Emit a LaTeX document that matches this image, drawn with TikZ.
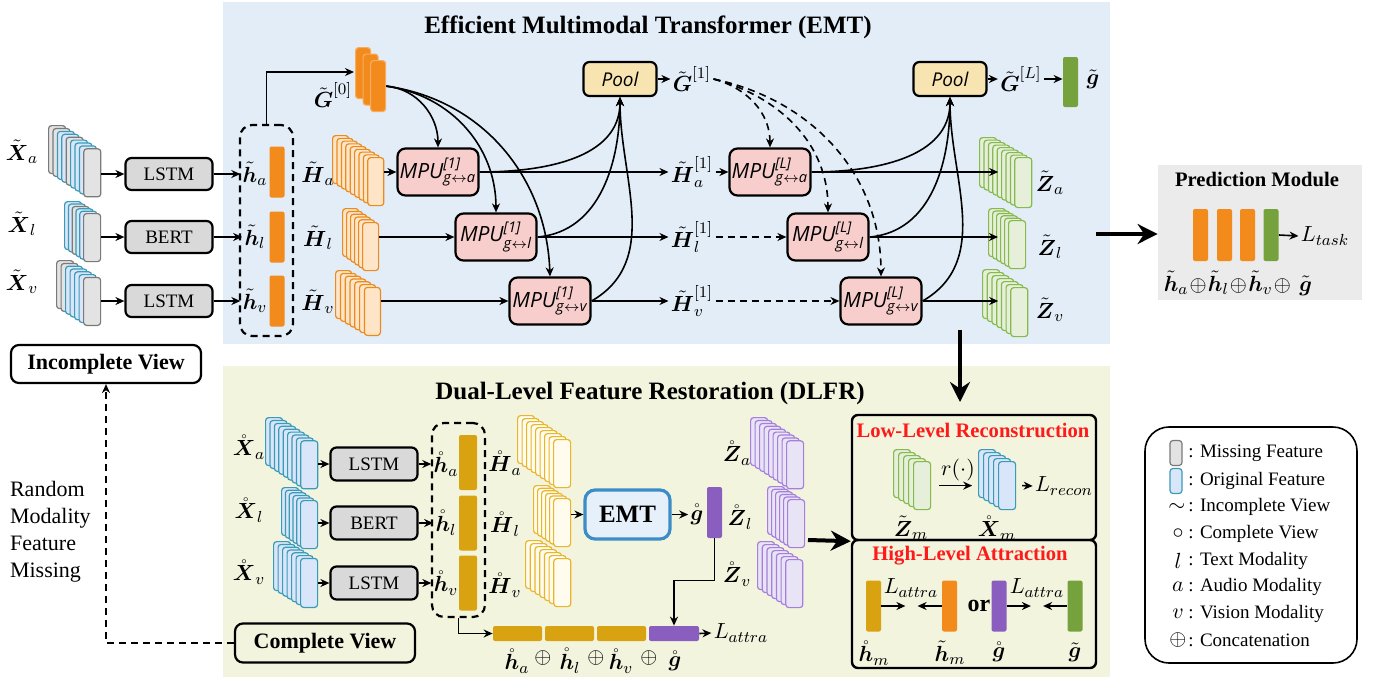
\documentclass[tikz,border=0pt]{standalone}
\usepackage{amsmath}
\usepackage{amssymb}
\usepackage{fontspec}
\setmainfont{Liberation Serif}
\newfontfamily\pufont{Open Sans}
\usetikzlibrary{arrows.meta}

\definecolor{emtbg}{HTML}{E3EDF7}
\definecolor{dlbg}{HTML}{F2F4DE}
\definecolor{predbg}{HTML}{EBEBEB}
\definecolor{encgray}{HTML}{D9D9D9}
\definecolor{mpupink}{HTML}{F8CECC}
\definecolor{pooltan}{HTML}{F8E4B1}
\definecolor{orsol}{HTML}{F28A1C}
\definecolor{hdraw}{HTML}{E98B1E}
\definecolor{hfill}{HTML}{FEE5C8}
\definecolor{missdraw}{HTML}{7A7A7A}
\definecolor{missfill}{HTML}{E3E3E3}
\definecolor{origdraw}{HTML}{3A9BB7}
\definecolor{origfill}{HTML}{D9E6FA}
\definecolor{zdraw}{HTML}{86BA4E}
\definecolor{zfill}{HTML}{E5EFD9}
\definecolor{gsol}{HTML}{76A23D}
\definecolor{ysol}{HTML}{D9A210}
\definecolor{ydraw}{HTML}{E9B52C}
\definecolor{yfill}{HTML}{FFFCEE}
\definecolor{psol}{HTML}{8A5EBF}
\definecolor{pdraw}{HTML}{A67FDD}
\definecolor{pfill}{HTML}{E9E3F6}
\definecolor{emtdraw}{HTML}{3C8DC7}
\definecolor{emtfill}{HTML}{E6F0FA}
\definecolor{titlered}{HTML}{FF1A1A}

% stack of feature cards, the last one is named #1
\newcommand{\cards}[7]{%
  \foreach \s [count=\i from 0] in {#7}
    \node[card, #6, \s, anchor=north west] (#1) at ({#2+\i*#4}, {#3+\i*#5}) {};
}
\newcommand{\mpu}[2]{{\pufont\itshape MPU}$^{\text{\pufont\itshape[#1]}}_{\text{\pufont\itshape g}\leftrightarrow\text{\pufont\itshape #2}}$}
\newcommand{\bx}{\boldsymbol}

\begin{document}
\begin{tikzpicture}[x=0.5pt, y=-0.5pt,
    lbl/.style={inner sep=1pt, font=\fontsize{11}{13}\selectfont},
    ttl/.style={font=\fontsize{12.5}{14}\selectfont\bfseries},
    arr/.style={-{Stealth[length=4.5pt,width=4pt]}, line width=0.8pt},
    bigarr/.style={-{Stealth[length=10pt,width=10pt]}, line width=2pt},
    dline/.style={dash pattern=on 3.5pt off 2.5pt},
    enc/.style={draw, line width=1.1pt, fill=encgray, rounded corners=3pt, minimum width=43.5pt, minimum height=16pt, font=\fontsize{9.5}{11}\selectfont},
    mpu/.style={draw, line width=1.1pt, fill=mpupink, rounded corners=4pt, minimum width=40.5pt, minimum height=23.5pt, inner sep=0pt, font=\fontsize{10.5}{12}\selectfont},
    pool/.style={draw, line width=1.1pt, fill=pooltan, rounded corners=3pt, minimum width=36.5pt, minimum height=17pt, font=\fontsize{9.5}{11}\selectfont\pufont\itshape},
    featbar/.style={rounded corners=1pt, minimum width=7.5pt, minimum height=25.5pt, inner sep=0pt},
    card/.style={rounded corners=1.5pt, line width=0.6pt, minimum width=8.5pt, minimum height=24pt, inner sep=0pt},
    miss/.style={draw=missdraw, fill=missfill},
    orig/.style={draw=origdraw, fill=origfill},
    hcard/.style={draw=hdraw, fill=hfill},
    gcard/.style={draw=orsol!70, fill=orsol},
    zcard/.style={draw=zdraw, fill=zfill},
    ycard/.style={draw=ydraw, fill=yfill},
    pcard/.style={draw=pdraw, fill=pfill},
    viewbox/.style={draw, line width=1.1pt, rounded corners=4pt, font=\fontsize{11}{13}\selectfont\bfseries},
    dbox/.style={draw, line width=1.1pt, dline, rounded corners=6pt},
    lossbox/.style={draw, line width=1.2pt, rounded corners=3pt},
    redttl/.style={text=titlered, font=\fontsize{10.3}{12}\selectfont\bfseries},
    legtxt/.style={anchor=west, inner sep=1pt, font=\fontsize{9.5}{11}\selectfont}
  ]
  \useasboundingbox (0,0) rectangle (1378,682);

  % backgrounds
  \fill[emtbg] (223,2) rectangle (1110,344);
  \fill[dlbg] (223,366) rectangle (1110,677);
  \node[fill=predbg, minimum width=102pt, minimum height=67.5pt] (pred) at (1260,232.5) {};

  \node[ttl] (emtt) at (648,27) {Efficient Multimodal Transformer (EMT)};
  \node[ttl] (dlt) at (650,393) {Dual-Level Feature Restoration (DLFR)};

  %%% EMT part
  % inputs
  \node[lbl] (xta) at (22,152) {$\tilde{\bx{X}}_a$};
  \node[lbl] (xtl) at (22,224) {$\tilde{\bx{X}}_l$};
  \node[lbl] (xtv) at (22,282) {$\tilde{\bx{X}}_v$};
  \cards{Xa}{48}{125}{4.4}{2.9}{}{miss,miss,orig,orig,miss,orig,orig,orig,miss}
  \cards{Xl}{64}{201}{3.8}{2.4}{}{orig,orig,miss,orig,orig,miss}
  \cards{Xv}{56}{260}{4.5}{2.8}{}{miss,miss,orig,orig,orig,orig,miss}

  \node[enc] (lstma) at (169,174) {LSTM};
  \node[enc] (bert) at (169,237) {BERT};
  \node[enc] (lstmv) at (169,301) {LSTM};

  \node[featbar, fill=orsol] (bara) at (277,172) {};
  \node[featbar, fill=orsol] (barl) at (277,237) {};
  \node[featbar, fill=orsol] (barv) at (277,301) {};
  \node[lbl] (hta) at (255,174) {$\tilde{\bx{h}}_a$};
  \node[lbl] (htl) at (255,237) {$\tilde{\bx{h}}_l$};
  \node[lbl] (htv) at (255,301) {$\tilde{\bx{h}}_v$};
  \node[dbox, minimum width=26.5pt, minimum height=105.5pt] (hbox) at (266.5,230.5) {};

  \draw[arr] (Xa.east |- lstma) -- (lstma.west);
  \draw[arr] (Xl.east |- bert) -- (bert.west);
  \draw[arr] (Xv.east |- lstmv) -- (lstmv.west);
  \draw[arr] (lstma.east) -- (hta.west);
  \draw[arr] (bert.east) -- (htl.west);
  \draw[arr] (lstmv.east) -- (htv.west);

  % global token
  \cards{G0}{355}{47}{7.5}{6.5}{minimum width=7.5pt, minimum height=25.5pt}{gcard,gcard,gcard}
  \coordinate (g0in) at (354,72);
  \node[lbl] (g0) at (333,95) {$\tilde{\bx{G}}^{[0]}$};
  \draw[arr] (hbox.north) |- (g0in);

  % modality sequences
  \node[lbl] (Hta) at (318,174) {$\tilde{\bx{H}}_a$};
  \node[lbl] (Htl) at (318,238) {$\tilde{\bx{H}}_l$};
  \node[lbl] (Htv) at (318,302) {$\tilde{\bx{H}}_v$};
  \cards{Ha}{332}{135}{4.4}{2.75}{minimum width=8pt}{hcard,hcard,hcard,hcard,hcard,hcard,hcard,hcard,hcard}
  \cards{Hl}{342}{208}{4}{2.8}{minimum width=8pt}{hcard,hcard,hcard,hcard,hcard,hcard}
  \cards{Hv}{335}{270}{4.8}{2.8}{minimum width=8pt}{hcard,hcard,hcard,hcard,hcard,hcard,hcard}

  % first layer
  \node[mpu] (m1a) at (438,172) {\mpu{1}{a}};
  \node[mpu] (m1l) at (496,237) {\mpu{1}{l}};
  \node[mpu] (m1v) at (550,301) {\mpu{1}{v}};
  \node[pool] (p1) at (620,79) {Pool};
  \node[lbl] (g1) at (692,79) {$\tilde{\bx{G}}^{[1]}$};
  \node[lbl] (h1a) at (692,172) {$\tilde{\bx{H}}^{[1]}_a$};
  \node[lbl] (h1l) at (692,237) {$\tilde{\bx{H}}^{[1]}_l$};
  \node[lbl] (h1v) at (692,301) {$\tilde{\bx{H}}^{[1]}_v$};

  \draw[arr] (Ha.east |- m1a) -- (m1a.west);
  \draw[arr] (Hl.east |- m1l) -- (m1l.west);
  \draw[arr] (Hv.east |- m1v) -- (m1v.west);
  \draw[arr] (G0.east) to[out=-5, in=90] (m1a.north);
  \draw[arr] (G0.east) to[out=-8, in=90] (m1l.north);
  \draw[arr] (G0.east) to[out=-8, in=92] (m1v.north);
  \draw[arr] (m1a.east) to[out=0, in=-90] (p1.south);
  \draw[arr] (m1l.east) to[out=5, in=-90] (p1.south);
  \draw[arr] (m1v.east) to[out=30, in=-90] (p1.south);
  \draw[arr] (m1a.east) -- (h1a.west);
  \draw[arr] (m1l.east) -- (h1l.west);
  \draw[arr] (m1v.east) -- (h1v.west);
  \draw[arr] (p1.east) -- (g1.west);

  % last layer
  \node[mpu] (mLa) at (770,172) {\mpu{L}{a}};
  \node[mpu] (mLl) at (828,237) {\mpu{L}{l}};
  \node[mpu] (mLv) at (881,301) {\mpu{L}{v}};
  \node[pool] (pL) at (950,79) {Pool};
  \node[lbl] (gL) at (1021,79) {$\tilde{\bx{G}}^{[L]}$};
  \node[featbar, fill=gsol, minimum height=25pt] (gbar) at (1070.5,82) {};
  \node[lbl] (gt) at (1093,79) {$\tilde{\bx{g}}$};

  \draw[arr] (h1a.east) -- (mLa.west);
  \draw[arr, dline] (h1l.east) -- (mLl.west);
  \draw[arr, dline] (h1v.east) -- (mLv.west);
  \draw[arr, dline] (g1.east) to[out=-15, in=90] (mLa.north);
  \draw[arr, dline] (g1.east) to[out=-15, in=90] (mLl.north);
  \draw[arr, dline] (g1.east) to[out=-12, in=90] (mLv.north);
  \draw[arr] (mLa.east) to[out=0, in=-90] (pL.south);
  \draw[arr] (mLl.east) to[out=5, in=-90] (pL.south);
  \draw[arr] (mLv.east) to[out=30, in=-90] (pL.south);
  \draw[arr] (pL.east) -- (gL.west);
  \draw[arr] (gL.east) -- (gbar.west |- gL);

  % outputs
  \cards{Za}{979}{137}{4.4}{2.5}{minimum height=25pt}{zcard,zcard,zcard,zcard,zcard,zcard,zcard,zcard,zcard}
  \cards{Zl}{988}{208}{4}{2.4}{}{zcard,zcard,zcard,zcard,zcard,zcard}
  \cards{Zv}{982}{269}{4.7}{3}{minimum height=24.5pt}{zcard,zcard,zcard,zcard,zcard,zcard,zcard}
  \node[lbl] (zta) at (1050,183) {$\tilde{\bx{Z}}_a$};
  \node[lbl] (ztl) at (1050,247) {$\tilde{\bx{Z}}_l$};
  \node[lbl] (ztv) at (1050,310) {$\tilde{\bx{Z}}_v$};
  \draw[arr, shorten >=8pt] (mLa.east) -- (Za.west |- mLa);
  \draw[arr, shorten >=5pt] (mLl.east) -- (Zl.west |- mLl);
  \draw[arr, shorten >=6pt] (mLv.east) -- (Zv.west |- mLv);

  %%% prediction module
  \node[font=\fontsize{10.3}{12}\selectfont\bfseries] (predt) at (1257,179) {Prediction Module};
  \node[featbar, fill=orsol, minimum height=26pt] (pa) at (1200.5,235) {};
  \node[featbar, fill=orsol, minimum height=26pt] (pl) at (1224.5,235) {};
  \node[featbar, fill=orsol, minimum height=26pt] (pv) at (1247.5,235) {};
  \node[featbar, fill=gsol, minimum height=26pt] (pg) at (1271,235) {};
  \node[lbl] (ltask) at (1325,236) {$L_{task}$};
  \node[lbl] (predlab) at (1238,283) {$\tilde{\bx{h}}_a\!\oplus\!\tilde{\bx{h}}_l\!\oplus\!\tilde{\bx{h}}_v\!\oplus\,\tilde{\bx{g}}$};
  \draw[arr] (pg.east) -- (ltask.west);
  \coordinate (emtout) at (1096,234);
  \draw[bigarr] (emtout) -- (pred.west |- emtout);

  %%% views
  \node[viewbox, fill=white, minimum width=95pt, minimum height=19pt] (inc) at (106,364) {Incomplete View};
  \node[viewbox, fill=dlbg, minimum width=90pt, minimum height=19.5pt] (comp) at (325,643) {Complete View};
  \draw[arr, dline] (comp.west) -| (inc.south);
  \node[anchor=north west, align=left, font=\fontsize{11}{13.5}\selectfont] (rand) at (3,474) {Random\\Modality\\Feature\\Missing};

  %%% DLFR part
  \node[lbl] (xca) at (249,447) {$\mathring{\bx{X}}_a$};
  \node[lbl] (xcl) at (249,510) {$\mathring{\bx{X}}_l$};
  \node[lbl] (xcv) at (249,572) {$\mathring{\bx{X}}_v$};
  \cards{Xca}{265}{417}{4.4}{2.9}{}{orig,orig,orig,orig,orig,orig,orig,orig,orig}
  \cards{Xcl}{281}{487}{3.8}{2.6}{}{orig,orig,orig,orig,orig,orig}
  \cards{Xcv}{273}{541}{4.5}{2.8}{minimum height=24.5pt}{orig,orig,orig,orig,orig,orig,orig}

  \node[enc, minimum height=16.5pt] (lstmca) at (374,464) {LSTM};
  \node[enc, minimum height=16.5pt] (bertc) at (374,523) {BERT};
  \node[enc, minimum height=16.5pt] (lstmcv) at (374,583) {LSTM};

  \node[featbar, fill=ysol, minimum width=9pt, minimum height=27.5pt] (bca) at (468,462.5) {};
  \node[featbar, fill=ysol, minimum width=9pt, minimum height=27.5pt] (bcl) at (468,523) {};
  \node[featbar, fill=ysol, minimum width=9pt, minimum height=27.5pt] (bcv) at (468,583) {};
  \node[lbl] (hca) at (446,464) {$\mathring{\bx{h}}_a$};
  \node[lbl] (hcl) at (446,523) {$\mathring{\bx{h}}_l$};
  \node[lbl] (hcv) at (446,583) {$\mathring{\bx{h}}_v$};
  \node[dbox, minimum width=26.5pt, minimum height=97pt] (hcbox) at (458.5,520) {};

  \draw[arr] (Xca.east |- lstmca) -- (lstmca.west);
  \draw[arr] (Xcl.east |- bertc) -- (bertc.west);
  \draw[arr] (Xcv.east |- lstmcv) -- (lstmcv.west);
  \draw[arr] (lstmca.east) -- (hca.west);
  \draw[arr] (bertc.east) -- (hcl.west);
  \draw[arr] (lstmcv.east) -- (hcv.west);

  \cards{Hca}{517}{415}{4.5}{3}{}{ycard,ycard,ycard,ycard,ycard,ycard,ycard,ycard,ycard}
  \cards{Hcl}{533}{485}{4}{2.6}{}{ycard,ycard,ycard,ycard,ycard,ycard}
  \cards{Hcv}{525}{540}{4.7}{3}{}{ycard,ycard,ycard,ycard,ycard,ycard,ycard}
  \node[lbl] (Hcla) at (505,463) {$\mathring{\bx{H}}_a$};
  \node[lbl] (Hcll) at (505,524) {$\mathring{\bx{H}}_l$};
  \node[lbl] (Hclv) at (505,585) {$\mathring{\bx{H}}_v$};

  \node[draw=emtdraw, fill=emtfill, line width=1.6pt, rounded corners=5pt, minimum width=42.5pt, minimum height=24.5pt, font=\fontsize{12.5}{14}\selectfont\bfseries] (emt) at (627.5,514.5) {EMT};
  \node[lbl] (gc) at (697,514.5) {$\mathring{\bx{g}}$};
  \node[featbar, fill=psol, minimum height=25.5pt] (gcbar) at (714.5,512.5) {};
  \draw[arr] (Hcl.east |- emt) -- (emt.west);
  \draw[arr] (emt.east) -- (gc.west);

  \cards{Zca}{750}{417}{4.5}{2.9}{}{pcard,pcard,pcard,pcard,pcard,pcard,pcard,pcard,pcard}
  \cards{Zcl}{767}{486}{4}{2.6}{}{pcard,pcard,pcard,pcard,pcard,pcard}
  \cards{Zcv}{757}{541}{4.7}{3}{}{pcard,pcard,pcard,pcard,pcard,pcard,pcard}
  \node[lbl] (zca) at (737,453) {$\mathring{\bx{Z}}_a$};
  \node[lbl] (zcl) at (740,517) {$\mathring{\bx{Z}}_l$};
  \node[lbl] (zcv) at (737,574) {$\mathring{\bx{Z}}_v$};

  % concatenation
  \node[featbar, fill=ysol, minimum width=24.5pt, minimum height=7.5pt] (cba) at (517.5,633.5) {};
  \node[featbar, fill=ysol, minimum width=24.5pt, minimum height=7.5pt] (cbl) at (569.5,633.5) {};
  \node[featbar, fill=ysol, minimum width=24.5pt, minimum height=7.5pt] (cbv) at (621.5,633.5) {};
  \node[featbar, fill=psol, minimum width=25pt, minimum height=7.5pt] (cg) at (674,633.5) {};
  \node[lbl] (lat) at (741,633) {$L_{attra}$};
  \draw[arr] (cg.east) -- (lat.west);
  \draw[arr] (hcbox.south) |- (cba.west);
  \draw[arr] (gcbar.south) -- ++(0,42) -| (cg.north);
  \node[lbl] (lca) at (517,661) {$\mathring{\bx{h}}_a$};
  \node[lbl] (lo1) at (543,658) {$\oplus$};
  \node[lbl] (lcl) at (570,661) {$\mathring{\bx{h}}_l$};
  \node[lbl] (lo2) at (596,658) {$\oplus$};
  \node[lbl] (lcv) at (621,661) {$\mathring{\bx{h}}_v$};
  \node[lbl] (lo3) at (649,658) {$\oplus$};
  \node[lbl] (lcg) at (675,661) {$\mathring{\bx{g}}$};

  \coordinate (dlout) at (808,540);
  \coordinate (emtdown) at (960,330);
  \coordinate (lowin) at (960,402);
  \draw[bigarr] (emtdown) -- (lowin);

  %%% losses
  \node[lossbox, minimum width=122pt, minimum height=62.5pt] (low) at (974,477.5) {};
  \node[lossbox, minimum width=122pt, minimum height=64pt] (high) at (974,604) {};
  \draw[bigarr] (dlout) -- (low.south west);
  \node[redttl] (lowt) at (973,430) {Low-Level Reconstruction};
  \node[redttl] (hight) at (970,556) {High-Level Attraction};

  \cards{Zm}{893}{449}{5}{3}{}{zcard,zcard,zcard,zcard,zcard}
  \cards{Xm}{978}{449}{5}{3}{}{orig,orig,orig,orig,orig}
  \node[lbl] (rl) at (958,470) {$r(\cdot)$};
  \node[lbl] (lrec) at (1064,486) {$L_{recon}$};
  \node[lbl] (zml) at (911,528) {$\tilde{\bx{Z}}_m$};
  \node[lbl] (xml) at (997,528) {$\mathring{\bx{X}}_m$};
  \draw[arr] ([xshift=4pt]Zm.east) -- ++(33,0);
  \draw[arr] ([xshift=3pt]Xm.east) -- (lrec.west);

  \node[featbar, fill=ysol] (hm) at (873.5,606) {};
  \node[featbar, fill=orsol] (htm) at (949.5,606) {};
  \node[featbar, fill=psol] (gcm) at (999,606) {};
  \node[featbar, fill=gsol] (gtm) at (1075,606) {};
  \draw[arr] (hm.east) -- ++(24,0);
  \draw[arr] (htm.west) -- ++(-24,0);
  \draw[arr] (gcm.east) -- ++(24,0);
  \draw[arr] (gtm.west) -- ++(-24,0);
  \node[lbl] (la1) at (911,588) {$L_{attra}$};
  \node[lbl] (la2) at (1037,588) {$L_{attra}$};
  \node[font=\fontsize{12}{14}\selectfont\bfseries] (orw) at (979,606) {or};
  \node[lbl] (hml) at (874,653) {$\mathring{\bx{h}}_m$};
  \node[lbl] (html) at (950,653) {$\tilde{\bx{h}}_m$};
  \node[lbl] (gcml) at (999,652) {$\mathring{\bx{g}}$};
  \node[lbl] (gtml) at (1075,652) {$\tilde{\bx{g}}$};

  %%% legend
  \node[draw, line width=0.8pt, rounded corners=12pt, minimum width=106pt, minimum height=118pt] (leg) at (1251,545) {};
  \node[card, miss, minimum width=6pt, minimum height=12.5pt] (lsmiss) at (1176,453) {};
  \node[card, orig, minimum width=6pt, minimum height=12.5pt] (lsorig) at (1176,481) {};
  \node[lbl] (lstil) at (1177,507) {$\sim$};
  \node[lbl] (lscirc) at (1178,534) {$\circ$};
  \node[lbl] (lsl) at (1178,561) {$l$};
  \node[lbl] (lsa) at (1178,587) {$a$};
  \node[lbl] (lsv) at (1178,614) {$v$};
  \node[lbl] (lsop) at (1178,640) {$\oplus$};
  \node[legtxt] (lg1) at (1186,453) {: Missing Feature};
  \node[legtxt] (lg2) at (1186,481) {: Original Feature};
  \node[legtxt] (lg3) at (1186,507) {: Incomplete View};
  \node[legtxt] (lg4) at (1186,534) {: Complete View};
  \node[legtxt] (lg5) at (1186,561) {: Text Modality};
  \node[legtxt] (lg6) at (1186,587) {: Audio Modality};
  \node[legtxt] (lg7) at (1186,614) {: Vision Modality};
  \node[legtxt] (lg8) at (1186,640) {: Concatenation};
\end{tikzpicture}
\end{document}
